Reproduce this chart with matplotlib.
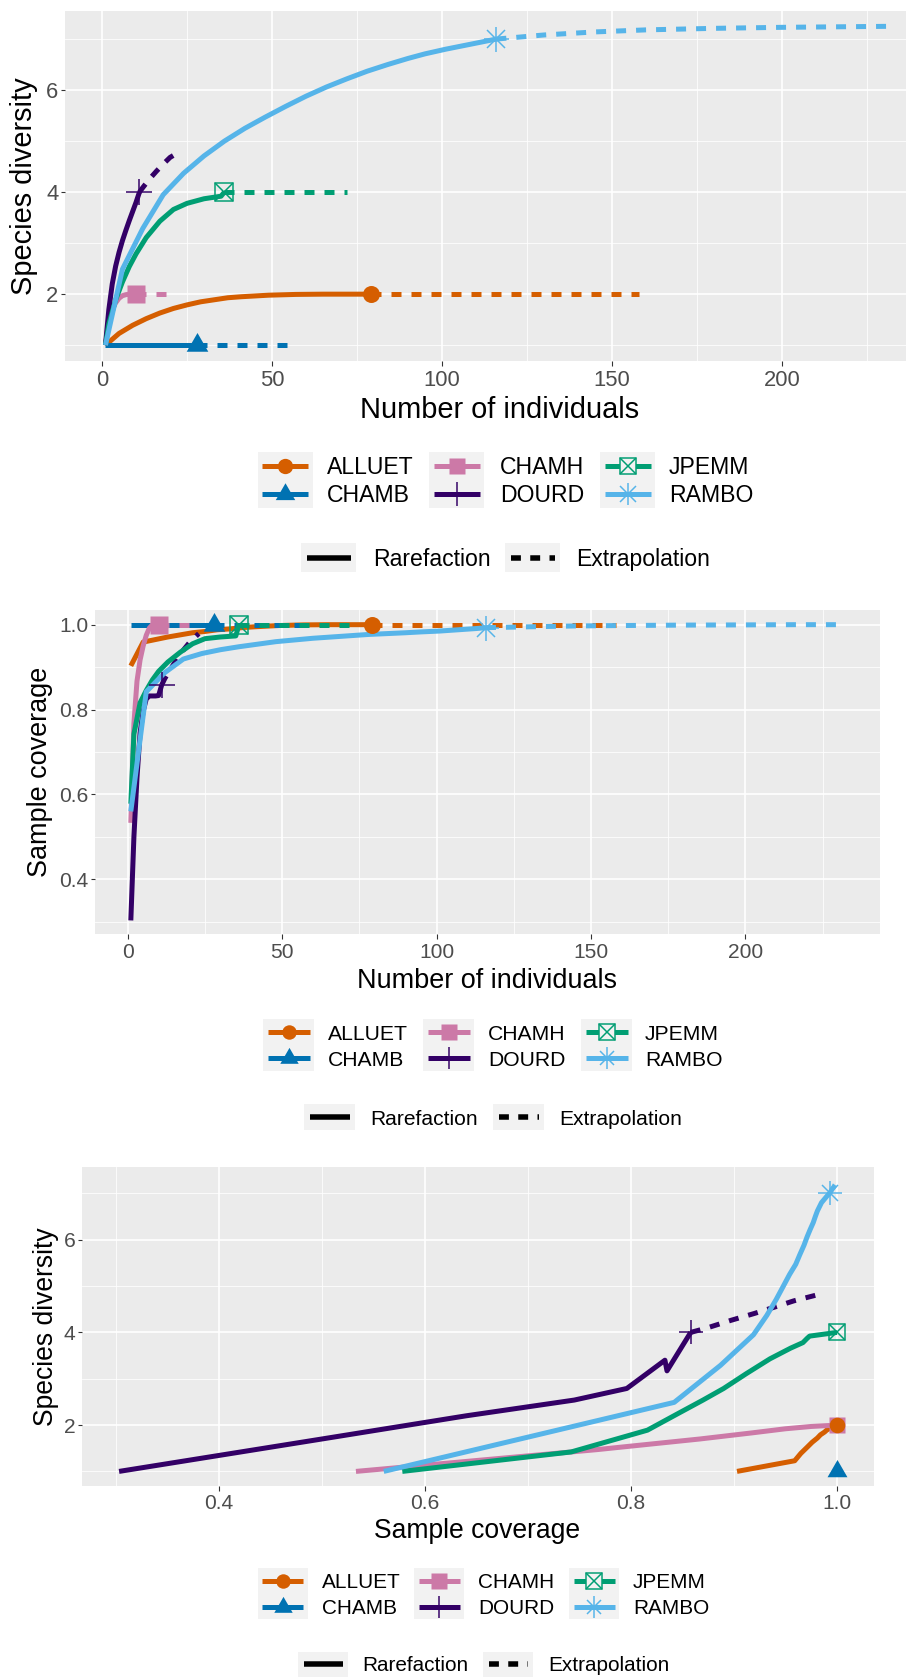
import numpy as np
import matplotlib
matplotlib.use("Agg")
import matplotlib.pyplot as plt
from matplotlib.patches import Rectangle

plt.rcParams['font.family'] = ['Liberation Sans', 'DejaVu Sans']

W, H = 922, 1678
DPI = 100
PT = 72.0 / DPI   # points per pixel

sites = ["ALLUET", "CHAMB", "CHAMH", "DOURD", "JPEMM", "RAMBO"]
site_colors = ["#D55E00", "#0072B2", "#CC79A7", "#330066", "#009E73", "#56B4E9"]
site_shapes = ["circle", "triangle", "square", "plus", "boxcross", "asterisk"]
methods = ["Rarefaction", "Extrapolation"]

# size-based estimates: m = number of individuals,
# qd = species diversity, sc = sample coverage
alluet_rare_m = [1, 5, 9, 13, 17, 21, 25, 29, 33, 37, 41, 49, 57, 65, 79]
alluet_rare_qd = [1.00, 1.23, 1.39, 1.52, 1.63, 1.72, 1.79, 1.85, 1.89, 1.93, 1.95, 1.98, 1.995, 2.00, 2.00]
alluet_rare_sc = [0.903, 0.959, 0.965, 0.971, 0.976, 0.981, 0.984, 0.988, 0.990, 0.993, 0.995, 0.998, 0.9995, 1.00, 1.00]
alluet_ext_m = [79, 100, 120, 140, 158]
alluet_ext_qd = [2.00, 2.00, 2.00, 2.00, 2.00]
alluet_ext_sc = [1.00, 1.00, 1.00, 1.00, 1.00]

chamb_rare_m = [1, 10, 20, 28]
chamb_rare_qd = [1.00, 1.00, 1.00, 1.00]
chamb_rare_sc = [1.00, 1.00, 1.00, 1.00]
chamb_ext_m = [28, 42, 56]
chamb_ext_qd = [1.00, 1.00, 1.00]
chamb_ext_sc = [1.00, 1.00, 1.00]

chamh_rare_m = [1, 2, 3, 4, 5, 6, 7, 8, 10]
chamh_rare_qd = [1.00, 1.47, 1.70, 1.83, 1.92, 1.97, 1.99, 2.00, 2.00]
chamh_rare_sc = [0.533, 0.767, 0.867, 0.917, 0.950, 0.975, 0.992, 1.00, 1.00]
chamh_ext_m = [10, 15, 20]
chamh_ext_qd = [2.00, 2.00, 2.00]
chamh_ext_sc = [1.00, 1.00, 1.00]

dourd_rare_m = [1, 2, 3, 4, 5, 6, 7, 8, 9, 10, 11]
dourd_rare_qd = [1.00, 1.70, 2.20, 2.55, 2.82, 3.05, 3.25, 3.44, 3.62, 3.80, 4.00]
dourd_rare_sc = [0.303, 0.50, 0.64, 0.745, 0.796, 0.825, 0.832, 0.832, 0.832, 0.833, 0.858]
dourd_ext_m = [11, 12, 14, 16, 18, 20, 22, 23]
dourd_ext_qd = [4.00, 4.09, 4.26, 4.41, 4.55, 4.68, 4.76, 4.80]
dourd_ext_sc = [0.858, 0.873, 0.897, 0.920, 0.940, 0.958, 0.972, 0.979]
# coverage-based rarefaction of DOURD as drawn in the third plot
dourd_cov_sc = [0.303, 0.50, 0.64, 0.745, 0.796, 0.833, 0.835, 0.858]
dourd_cov_qd = [1.00, 1.70, 2.20, 2.54, 2.79, 3.40, 3.17, 4.00]

jpemm_rare_m = [1, 2, 4, 6, 8, 10, 13, 17, 21, 25, 30, 35, 36]
jpemm_rare_qd = [1.00, 1.42, 1.89, 2.24, 2.54, 2.79, 3.11, 3.43, 3.66, 3.78, 3.87, 3.92, 4.00]
jpemm_rare_sc = [0.578, 0.742, 0.816, 0.845, 0.870, 0.890, 0.912, 0.935, 0.955, 0.967, 0.971, 0.9735, 1.00]
jpemm_ext_m = [36, 48, 60, 72]
jpemm_ext_qd = [4.00, 4.00, 4.00, 4.00]
jpemm_ext_sc = [1.00, 1.00, 1.00, 1.00]

rambo_rare_m = [1, 6, 12, 18, 24, 30, 36, 42, 48, 54, 60, 66, 72, 78, 84, 90, 95, 101, 107, 113, 116]
rambo_rare_qd = [1.00, 2.49, 3.29, 3.95, 4.37, 4.71, 5.00, 5.25, 5.47, 5.68, 5.88, 6.06, 6.22,
                 6.37, 6.50, 6.62, 6.71, 6.80, 6.88, 6.96, 7.00]
rambo_rare_sc = [0.560, 0.842, 0.887, 0.919, 0.932, 0.941, 0.948, 0.954, 0.960, 0.964, 0.968, 0.971, 0.974,
                 0.977, 0.979, 0.981, 0.983, 0.985, 0.988, 0.991, 0.993]
rambo_ext_m = [116, 130, 145, 160, 180, 200, 216, 232]
rambo_ext_qd = [7.00, 7.08, 7.14, 7.18, 7.21, 7.23, 7.24, 7.25]
rambo_ext_sc = [0.993, 0.995, 0.997, 0.998, 0.999, 0.9995, 1.00, 1.00]

curves = {
    "ALLUET": (alluet_rare_m, alluet_rare_qd, alluet_rare_sc, alluet_ext_m, alluet_ext_qd, alluet_ext_sc),
    "CHAMB": (chamb_rare_m, chamb_rare_qd, chamb_rare_sc, chamb_ext_m, chamb_ext_qd, chamb_ext_sc),
    "CHAMH": (chamh_rare_m, chamh_rare_qd, chamh_rare_sc, chamh_ext_m, chamh_ext_qd, chamh_ext_sc),
    "DOURD": (dourd_rare_m, dourd_rare_qd, dourd_rare_sc, dourd_ext_m, dourd_ext_qd, dourd_ext_sc),
    "JPEMM": (jpemm_rare_m, jpemm_rare_qd, jpemm_rare_sc, jpemm_ext_m, jpemm_ext_qd, jpemm_ext_sc),
    "RAMBO": (rambo_rare_m, rambo_rare_qd, rambo_rare_sc, rambo_ext_m, rambo_ext_qd, rambo_ext_sc),
}

TRI = [(-1, -0.577), (1, -0.577), (0, 1.155)]
LW = 5.0     # px, curve width
DASH = (0, (2, 2))


def px_axes(fig, l, t, r, b, **kw):
    return fig.add_axes([l / W, 1 - b / H, (r - l) / W, (b - t) / H], **kw)


def marker(ax, x, y, shape, color, k=1.0, face='none', z=6):
    if shape == 'circle':
        ax.plot(x, y, 'o', ms=17 * PT * k, mfc=color, mec='none', zorder=z)
    elif shape == 'triangle':
        ax.plot(x, y, marker=TRI, ms=25 * PT * k, mfc=color, mec='none', zorder=z)
    elif shape == 'square':
        ax.plot(x, y, 's', ms=18 * PT * k, mfc=color, mec='none', zorder=z)
    elif shape == 'plus':
        ax.plot(x, y, '+', ms=27 * PT * k, mec=color, mew=1.5 * PT, zorder=z)
    elif shape == 'boxcross':
        ax.plot(x, y, 's', ms=18 * PT * k, mfc=face, mec=color, mew=1.5 * PT, zorder=z)
        ax.plot(x, y, 'x', ms=18 * PT * k, mec=color, mew=1.5 * PT, zorder=z)
    elif shape == 'asterisk':
        ax.plot(x, y, '+', ms=25 * PT * k, mec=color, mew=1.5 * PT, zorder=z)
        ax.plot(x, y, 'x', ms=17.5 * PT * k, mec=color, mew=1.5 * PT, zorder=z)


def style_panel(ax, xlim, ylim, xmaj, xlab, xmin, ymaj, ylab, ymin, fs, xpad, ypad):
    ax.set_facecolor('#EBEBEB')
    for sp in ax.spines.values():
        sp.set_visible(False)
    ax.set_xlim(*xlim)
    ax.set_ylim(*ylim)
    ax.set_xticks(xmaj)
    ax.set_xticklabels(xlab)
    ax.set_xticks(xmin, minor=True)
    ax.set_yticks(ymaj)
    ax.set_yticklabels(ylab)
    ax.set_yticks(ymin, minor=True)
    ax.grid(True, which='major', color='white', lw=1.6 * PT)
    ax.grid(True, which='minor', color='white', lw=0.8 * PT)
    ax.set_axisbelow(True)
    ax.tick_params(which='major', length=4.5 * PT, width=1.1 * PT, color='#333333',
                   labelsize=fs * PT, labelcolor='#4D4D4D')
    ax.tick_params(axis='x', which='major', pad=xpad * PT)
    ax.tick_params(axis='y', which='major', pad=ypad * PT)
    ax.tick_params(which='minor', length=0)


def draw_size_panel(ax, ycol):
    # ycol 1 -> diversity, 2 -> coverage
    for i, s in enumerate(sites):
        c = curves[s]
        ax.plot(c[0], c[ycol], color=site_colors[i], lw=LW * PT,
                solid_capstyle='butt', solid_joinstyle='round', zorder=3)
        ax.plot(c[3], c[3 + ycol], color=site_colors[i], lw=LW * PT, ls=DASH,
                dash_capstyle='butt', zorder=3)
    for i in reversed(range(len(sites))):
        c = curves[sites[i]]
        marker(ax, c[0][-1], c[ycol][-1], site_shapes[i], site_colors[i])


def draw_coverage_panel(ax):
    for i, s in enumerate(sites):
        c = curves[s]
        if s == "DOURD":
            rx, ry = np.array(dourd_cov_sc), np.array(dourd_cov_qd)
        else:
            rx, ry = np.array(c[2]), np.array(c[1])
            o = np.argsort(rx, kind='stable')
            rx, ry = rx[o], ry[o]
        ax.plot(rx, ry, color=site_colors[i], lw=LW * PT,
                solid_capstyle='butt', solid_joinstyle='round', zorder=3)
        ax.plot(c[5], c[4], color=site_colors[i], lw=LW * PT, ls=DASH,
                dash_capstyle='butt', zorder=3)
    for i in reversed(range(len(sites))):
        c = curves[sites[i]]
        marker(ax, c[2][-1], c[1][-1], site_shapes[i], site_colors[i], k=0.92)


def site_legend(lg, key_x, text_x, rows, row_h, key_w, fs, k):
    for i, s in enumerate(sites):
        col, row = divmod(i, 2)
        x0, yc = key_x[col], rows[row]
        lg.add_patch(Rectangle((x0, yc - row_h / 2), key_w, row_h, fc='#F2F2F2', ec='none'))
        lg.plot([x0 + 4.5, x0 + key_w - 4.5], [yc, yc], color=site_colors[i],
                lw=LW * PT, solid_capstyle='butt')
        marker(lg, x0 + key_w / 2, yc, site_shapes[i], site_colors[i], k=k, face='#F2F2F2')
        lg.text(text_x[col], yc + 0.358 * fs, s, fontsize=fs * PT, va='baseline', ha='left')


def type_legend(lg, key_x, text_x, yc, key_h, key_w, fs):
    for j, lab in enumerate(methods):
        x0 = key_x[j]
        lg.add_patch(Rectangle((x0, yc - key_h / 2), key_w, key_h, fc='#F2F2F2', ec='none'))
        lg.plot([x0 + 5.5, x0 + key_w - 5.5], [yc, yc], color='black', lw=5.5 * PT,
                ls='-' if j == 0 else (0, (1.8, 1.7)), solid_capstyle='butt', dash_capstyle='butt')
        lg.text(text_x[j], yc + 0.358 * fs, lab, fontsize=fs * PT, va='baseline', ha='left')


fig = plt.figure(figsize=(W / DPI, H / DPI), dpi=DPI, facecolor='white')

# panel 1: diversity vs number of individuals
ax1 = px_axes(fig, 65, 11, 906, 361)
style_panel(ax1, (-10.9, 236.5), (0.69, 7.55),
            [0, 50, 100, 150, 200], ["0", "50", "100", "150", "200"], [25, 75, 125, 175, 225],
            [2, 4, 6], ["2", "4", "6"], [1, 3, 5, 7], 22, 5, 2)
draw_size_panel(ax1, 1)

# panel 2: coverage vs number of individuals
ax2 = px_axes(fig, 95, 610, 880, 934)
style_panel(ax2, (-10.6, 243.6), (0.271, 1.0346),
            [0, 50, 100, 150, 200], ["0", "50", "100", "150", "200"], [25, 75, 125, 175, 225],
            [0.4, 0.6, 0.8, 1.0], ["0.4", "0.6", "0.8", "1.0"], [0.3, 0.5, 0.7, 0.9], 21, 5, 2)
draw_size_panel(ax2, 2)

# panel 3: diversity vs coverage
ax3 = px_axes(fig, 82, 1167, 874, 1486)
style_panel(ax3, (0.267, 1.036), (0.685, 7.57),
            [0.4, 0.6, 0.8, 1.0], ["0.4", "0.6", "0.8", "1.0"], [0.3, 0.5, 0.7, 0.9],
            [2, 4, 6], ["2", "4", "6"], [1, 3, 5, 7], 21, 3.5, 2)
draw_coverage_panel(ax3)

# overlay in pixel coordinates for titles and legends
lg = fig.add_axes([0, 0, 1, 1], zorder=10)
lg.set_xlim(0, W)
lg.set_ylim(H, 0)
lg.axis('off')
lg.patch.set_alpha(0)

lg.text(499.5, 418, "Number of individuals", fontsize=29 * PT, ha='center', va='baseline')
lg.text(32.2, 186, "Species diversity", fontsize=29 * PT, ha='center', va='baseline',
        rotation=90, rotation_mode='anchor')
lg.text(487.3, 988, "Number of individuals", fontsize=27 * PT, ha='center', va='baseline')
lg.text(47.3, 772, "Sample coverage", fontsize=27 * PT, ha='center', va='baseline',
        rotation=90, rotation_mode='anchor')
lg.text(477.5, 1537.5, "Sample coverage", fontsize=26.5 * PT, ha='center', va='baseline')
lg.text(53.2, 1326.5, "Species diversity", fontsize=26.5 * PT, ha='center', va='baseline',
        rotation=90, rotation_mode='anchor')

site_legend(lg, [257.5, 429, 600], [327, 500, 669], [466, 493.5], 28, 55, 23, 0.9)
type_legend(lg, [301, 505], [373, 576], 557.5, 29, 55, 23)

site_legend(lg, [263, 423, 581], [328, 488, 645], [1032, 1058], 26, 51, 21.2, 0.85)
type_legend(lg, [304, 493], [370, 559], 1117, 26, 51, 21)

site_legend(lg, [257.5, 414, 569], [322, 478, 633], [1581, 1606.5], 25.5, 50, 20.8, 0.85)
type_legend(lg, [298, 483], [362, 548], 1664, 25, 50, 20.8)

fig.savefig("out.png", dpi=DPI, facecolor='white')
